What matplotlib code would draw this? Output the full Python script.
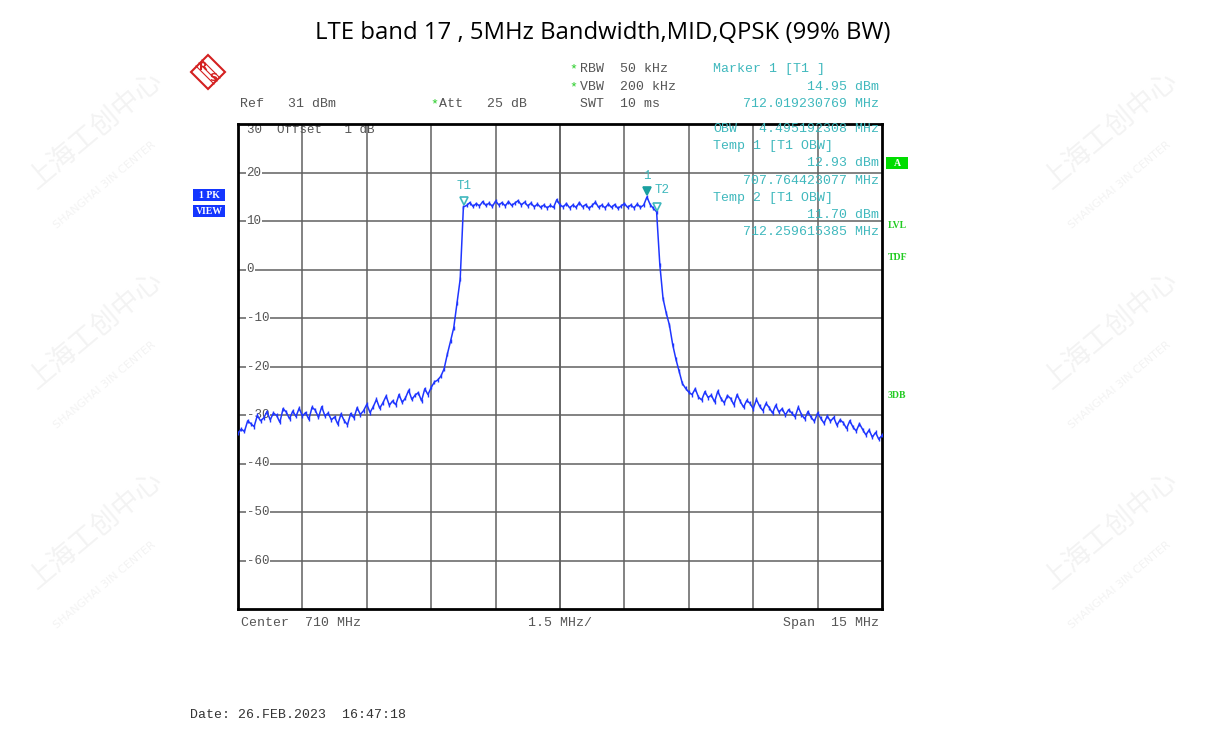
import numpy as np
import matplotlib
matplotlib.use("Agg")
import matplotlib.pyplot as plt
from matplotlib.patches import Rectangle, Polygon

W, H = 1205, 740

# analyzer settings
center_mhz = 710.0
span_mhz = 15.0
ref_level = 30
y_bottom = -70
grid_levels = [20, 10, 0, -10, -20, -30, -40, -50, -60]
grid_labels = ["20", "10", "0", "-10", "-20", "-30", "-40", "-50", "-60"]

# trace (dBm), sweep points evenly spread over the span
levels_dbm = [
    -33.8, -32.9, -33.4, -31.2, -31.8, -32.4, -30.1, -31.2, -30.6, -29.3,
    -31.0, -29.6, -30.1, -31.5, -28.7, -29.4, -30.8, -29.2, -30.3, -28.6,
    -30.2, -29.5, -30.9, -28.4, -29.0, -30.5, -28.3, -30.2, -29.6, -31.0,
    -30.4, -31.9, -29.8, -31.2, -32.0, -29.7, -30.6, -28.5, -29.9, -29.1,
    -27.8, -29.5, -28.3, -26.8, -28.6, -27.5, -26.1, -28.0, -27.1, -27.9,
    -25.8, -27.4, -26.5, -24.9, -26.8, -25.9, -25.4, -27.1, -24.6, -25.8,
    -24.3, -23.2, -22.8, -22.0, -20.5, -17.5, -14.8, -12.0, -7.0, -2.0,
    12.9, 13.2, 13.8, 13.0, 13.6, 13.1, 14.0, 13.2, 13.7, 13.0,
    14.1, 13.3, 13.8, 13.1, 14.0, 13.2, 13.7, 14.2, 13.3, 13.9,
    13.1, 13.7, 12.9, 13.5, 12.8, 13.3, 12.7, 13.2, 12.8, 14.4,
    13.3, 12.9, 13.6, 12.7, 13.3, 12.8, 13.8, 12.9, 13.4, 12.6,
    13.2, 13.9, 12.8, 13.3, 12.7, 13.5, 12.8, 13.4, 12.6, 13.1,
    13.6, 12.8, 13.3, 12.7, 13.5, 12.8, 13.3, 14.95, 13.4, 12.6,
    11.9, 1.0, -6.0, -9.0, -11.5, -15.5, -18.5, -21.0, -23.5, -24.5,
    -25.3, -25.8, -24.6, -26.3, -26.9, -25.2, -26.4, -25.9, -27.3, -25.1,
    -26.6, -27.5, -26.0, -26.6, -27.9, -25.8, -27.2, -28.4, -27.0, -27.6,
    -28.7, -26.8, -28.2, -29.1, -27.6, -28.5, -29.6, -28.0, -29.4, -28.7,
    -30.0, -28.9, -29.6, -30.4, -28.4, -29.9, -30.8, -29.3, -30.5, -31.3,
    -29.6, -30.7, -31.7, -30.2, -31.3, -30.5, -32.1, -31.0, -31.6, -32.8,
    -31.2, -32.5, -33.3, -31.8, -33.0, -34.1, -33.1, -34.6, -33.6, -35.0,
    -34.2,
]

# markers: (name, freq MHz, level dBm)
marker_names = ["T1", "1", "T2"]
marker_freqs = [707.764423077, 712.019230769, 712.259615385]
marker_levels = [12.93, 14.95, 11.70]

MONO = "Liberation Mono"
GREY = "#555555"
CYAN = "#3fb8bd"
GREEN = "#22cc22"
BLUE = "#1f36ff"


def fx(x):
    return x / W


def fy(y):
    return 1 - y / H


fig = plt.figure(figsize=(W / 100, H / 100), dpi=100)
fig.patch.set_facecolor("white")

# faint watermark in the side margins
for wx, wy in [(95, 130), (95, 330), (95, 530), (1110, 130), (1110, 330), (1110, 530)]:
    fig.text(fx(wx), fy(wy), "上海工创中心", fontsize=20, color="#f3f3f3", rotation=40,
             ha="center", va="center", family=["Noto Sans CJK SC", "DejaVu Sans"], zorder=0)
    fig.text(fx(wx + 10), fy(wy + 55), "SHANGHAI 3IN CENTER", fontsize=8, color="#f3f3f3",
             rotation=40, ha="center", va="center", family="DejaVu Sans", zorder=0)

fig.text(0.5, fy(33), "LTE band 17 , 5MHz Bandwidth,MID,QPSK (99% BW)", ha="center",
         va="center", fontsize=17.2, family="Open Sans", color="black")

ax = fig.add_axes([fx(238), fy(609), fx(882 - 238), fy(124) - fy(609)])
ax.set_zorder(2)
f_start = center_mhz - span_mhz / 2
f_stop = center_mhz + span_mhz / 2
ax.set_xlim(f_start, f_stop)
ax.set_ylim(y_bottom, ref_level)
ax.set_xticks([])
ax.set_yticks([])
for s in ax.spines.values():
    s.set_linewidth(2)
    s.set_color("black")

for k in range(1, 10):
    xv = f_start + k * span_mhz / 10
    ax.axvline(xv, color="#3a3a3a" if k == 5 else "#606060", lw=1.1, zorder=1)
for lv in grid_levels:
    ax.axhline(lv, color="#606060", lw=1.1, zorder=1)

for lv, lab in zip(grid_levels, grid_labels):
    ax.text(f_start + 0.2, lv, lab, fontsize=9, family=MONO, color=GREY, va="center",
            ha="left", zorder=2, bbox=dict(facecolor="white", edgecolor="none", pad=0.5))
ax.text(f_start + 0.2, 28.8, "30  Offset   1 dB", fontsize=9, family=MONO, color=GREY,
        va="center", ha="left", zorder=2)

freqs = np.linspace(f_start, f_stop, len(levels_dbm))
ax.plot(freqs, levels_dbm, color=BLUE, lw=1.1, zorder=3)
ax.plot(freqs, levels_dbm, ls="none", marker="|", ms=3, color=BLUE, zorder=3)

for name, mf, ml in zip(marker_names, marker_freqs, marker_levels):
    filled = name == "1"
    ax.plot(mf, ml + 1.2, marker="v", ms=6, color="#1aa0a0" if filled else CYAN,
            mfc="#1aa0a0" if filled else "white", mew=1.2, zorder=4)
    if name == "T2":
        ax.text(mf - 0.05, ml + 3.4, name, fontsize=9, family=MONO, color=CYAN,
                ha="left", va="bottom", zorder=4)
    else:
        ax.text(mf, ml + 3.0, name, fontsize=9, family=MONO, color=CYAN,
                ha="center", va="bottom", zorder=4)


# header texts
def mono(x, y, s, color=GREY, ha="left"):
    fig.text(fx(x), fy(y), s, fontsize=9.5, family=MONO, color=color, ha=ha, va="center",
             zorder=3)


mono(240, 104, "Ref   31 dBm")
mono(430, 104, "*", color=GREEN)
mono(439, 104, "Att   25 dB")
mono(569, 69, "*", color=GREEN)
mono(580, 69, "RBW  50 kHz")
mono(569, 87, "*", color=GREEN)
mono(580, 87, "VBW  200 kHz")
mono(580, 104, "SWT  10 ms")
mono(713, 69, "Marker 1 [T1 ]", color=CYAN)
mono(879, 87, "14.95 dBm", color=CYAN, ha="right")
mono(879, 104, "712.019230769 MHz", color=CYAN, ha="right")

mono(713, 129, "OBW", color=CYAN)
mono(879, 129, "4.495192308 MHz", color=CYAN, ha="right")
mono(713, 146, "Temp 1 [T1 OBW]", color=CYAN)
mono(879, 163, "12.93 dBm", color=CYAN, ha="right")
mono(879, 181, "707.764423077 MHz", color=CYAN, ha="right")
mono(713, 198, "Temp 2 [T1 OBW]", color=CYAN)
mono(879, 215, "11.70 dBm", color=CYAN, ha="right")
mono(879, 232, "712.259615385 MHz", color=CYAN, ha="right")

mono(241, 623, "Center  710 MHz")
mono(560, 623, "1.5 MHz/", ha="center")
mono(879, 623, "Span  15 MHz", ha="right")
mono(190, 715, "Date: 26.FEB.2023  16:47:18", color="#333333")

# side annunciators
fig.patches.append(Rectangle((fx(886), fy(169)), fx(22), fy(157) - fy(169),
                             transform=fig.transFigure, facecolor="#00dd00", edgecolor="none"))
fig.text(fx(897), fy(163), "A", fontsize=7, family="Liberation Serif", color="white",
         ha="center", va="center", weight="bold")
for lab, yy in [("LVL", 226), ("TDF", 257), ("3DB", 396)]:
    fig.text(fx(888), fy(yy), lab, fontsize=7, family="Liberation Serif", color=GREEN,
             ha="left", va="center", weight="bold")

for lab, yy in [("1 PK", 195), ("VIEW", 211)]:
    fig.patches.append(Rectangle((fx(193), fy(yy + 6)), fx(32), fy(yy - 6) - fy(yy + 6),
                                 transform=fig.transFigure, facecolor="#1436ff",
                                 edgecolor="none"))
    fig.text(fx(209), fy(yy), lab, fontsize=7, family="Liberation Serif", color="white",
             ha="center", va="center", weight="bold")

# R&S logo
cx, cy, r = 208, 72, 17
fig.patches.append(Polygon([(fx(cx), fy(cy - r)), (fx(cx + r), fy(cy)), (fx(cx), fy(cy + r)),
                            (fx(cx - r), fy(cy))], closed=True, transform=fig.transFigure,
                           facecolor="white", edgecolor="#d42020", lw=1.5))
for d in (-3, 0, 3):
    fig.lines.append(plt.Line2D([fx(cx - 9 + d), fx(cx + 9 + d)], [fy(cy - 9 - d), fy(cy + 9 - d)],
                                transform=fig.transFigure, color="#d42020", lw=0.8))
fig.text(fx(cx - 5), fy(cy - 5), "R", fontsize=8, color="#d42020", weight="bold",
         ha="center", va="center", family="DejaVu Sans")
fig.text(fx(cx + 5), fy(cy + 6), "S", fontsize=8, color="#d42020", weight="bold",
         ha="center", va="center", family="DejaVu Sans")

fig.savefig("out.png", dpi=100)
